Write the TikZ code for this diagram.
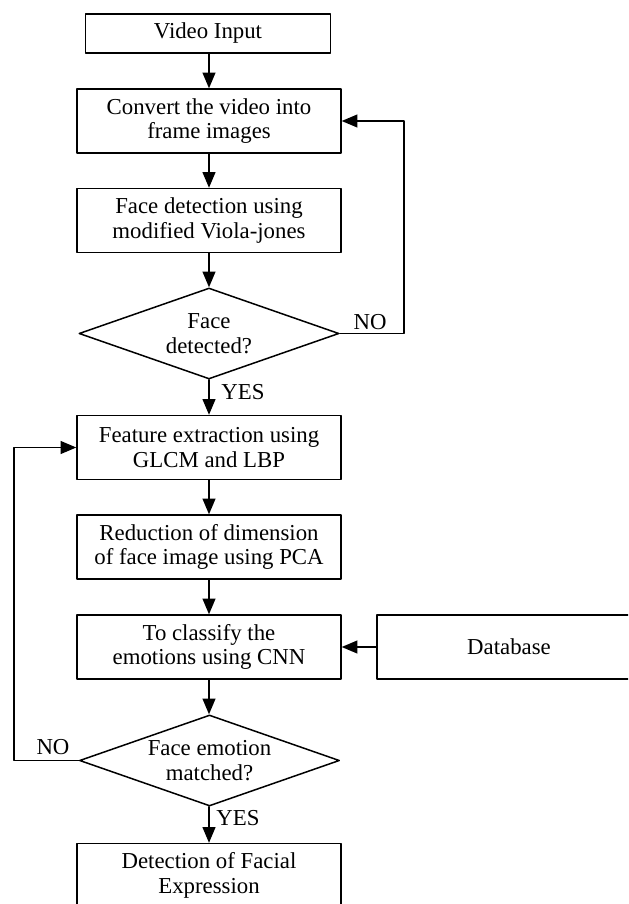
\documentclass[tikz,border=0pt]{standalone}
\usepackage{fontspec}
\setmainfont{Liberation Serif}
\usetikzlibrary{arrows}
\usetikzlibrary{shapes.geometric}

\tikzset{
  procbox/.style={draw, line width=0.75pt, minimum width=132pt, minimum height=32pt, inner sep=0pt, align=center},
  decision/.style={draw, diamond, line width=0.75pt, minimum width=130pt, minimum height=45.5pt, aspect=2.86, inner sep=0pt, align=center},
  lbl/.style={inner sep=0pt},
  flow/.style={->, line width=0.8pt}
}

\begin{document}
\begin{tikzpicture}[line cap=round,line join=round,>=triangle 45,x=0.5pt,y=-0.5pt,font=\fontsize{11.4}{12.3}\selectfont]

		%kehys
		\useasboundingbox (0,0) rectangle (628,904);
		\clip (0,0) rectangle (628,904);

		%laatikot
		\node[procbox, minimum width=122.5pt, minimum height=19.5pt] (input) at (208,33.5) {Video Input};
		\node[procbox] (convert) at (209,121) {Convert the video into\\frame images};
		\node[procbox] (detect) at (209,220.5) {Face detection using\\modified Viola-jones};
		\node[decision] (found) at (209,333.5) {Face\\detected?};
		\node[procbox] (feature) at (209,447.5) {Feature extraction using\\GLCM and LBP};
		\node[procbox] (reduce) at (209,547) {Reduction of dimension\\of face image using PCA};
		\node[procbox] (classify) at (209,647) {To classify the\\emotions using CNN};
		\node[procbox] (database) at (509,647) {Database};
		\node[decision] (matched) at (209.5,760.5) {Face emotion\\matched?};
		\node[procbox] (output) at (209,875.5) {Detection of Facial\\Expression};

		%nuolet alas
		\draw[flow] (input.south -| convert.north)--(convert.north);
		\draw[flow] (convert)--(detect);
		\draw[flow] (detect)--(found);
		\draw[flow] (found)--(feature);
		\draw[flow] (feature)--(reduce);
		\draw[flow] (reduce)--(classify);
		\draw[flow] (classify)--(matched.north -| classify.south);
		\draw[flow] (matched.south -| output.north)--(output);
		\draw[flow] (database)--(classify);

		%paluut
		\coordinate (backright) at (404,121);
		\draw[flow] (found.east) -| (backright) -- (convert.east);
		\coordinate (backleft) at (14,447.5);
		\draw[flow] (matched.west) -| (backleft) -- (feature.west);

		%tekstit
		\node[lbl] (yes1) at (243,392) {YES};
		\node[lbl] (no1) at (370,322) {NO};
		\node[lbl] (no2) at (53,747) {NO};
		\node[lbl] (yes2) at (238,818) {YES};

	\end{tikzpicture}
\end{document}
